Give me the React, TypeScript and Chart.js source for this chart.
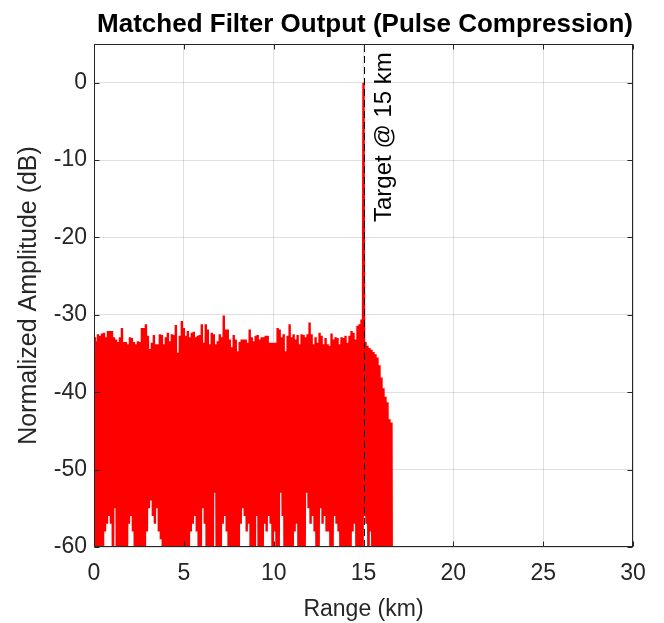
import { useEffect, useRef } from 'react';
import { Chart, registerables } from 'chart.js';

Chart.register(...registerables);

const TITLE = 'Matched Filter Output (Pulse Compression)';
const X_LABEL = 'Range (km)';
const Y_LABEL = 'Normalized Amplitude (dB)';
const TARGET_LABEL = 'Target @ 15 km';
const TARGET_RANGE_KM = 15;
const TARGET_PEAK_DB = 0;
const TARGET_LABEL_START_DB = -18;
const SAMPLE_SPACING_KM = 15 / 270;

const X_MIN = 0;
const X_MAX = 30;
const X_STEP = 5;
const Y_MIN = -60;
const Y_MAX = 5;
const Y_STEP = 10;

// upper excursions of the noise floor before the target (every other sample)
const noisePeaksDb = [
  -32.9, -33.4, -32.5, -32.7, -32.4, -32.3, -32.9, -32.1, -32.1, -32.1,
  -32.9, -33.2, -33.5, -32.9, -31.7, -33.5, -33.5, -33.8, -32.9, -33.0,
  -33.5, -33.8, -33.4, -33.5, -31.7, -31.7, -31.2, -32.7, -34.4, -33.6,
  -32.6, -33.8, -33.8, -32.5, -32.6, -33.8, -32.9, -32.3, -33.4, -32.5,
  -32.6, -31.3, -34.9, -32.7, -30.8, -31.7, -32.7, -32.1, -32.9,
  -32.3, -32.2, -32.9, -32.7, -32.6, -31.2, -33.6, -31.2, -31.9, -33.8,
  -32.3, -32.5, -33.8, -33.4, -32.5, -32.9, -30.1, -31.9, -31.9, -33.2,
  -34.2, -32.6, -33.2, -34.7, -33.5, -33.2, -33.2, -33.2, -33.6, -31.9,
  -32.9, -33.4, -32.7, -32.6, -33.2, -32.9, -32.9, -32.7, -32.7, -33.6,
  -33.6, -33.6, -33.6, -31.7, -31.9, -32.9, -32.5, -34.7, -32.7,
  -31.2, -32.9, -32.5, -33.2, -32.6, -33.8, -32.5, -32.6, -32.9, -32.5,
  -31.0, -32.5, -33.8, -32.9, -33.6, -32.3, -32.7, -33.8, -33.0, -33.8,
  -34.0, -32.4, -33.2, -32.9, -33.0, -33.8, -32.9, -33.0, -32.7, -33.6,
  -32.7, -32.1, -32.3, -33.2, -31.4, -31.2, -30.6,
];

// lower excursions of the noise floor before the target (every other sample)
const noiseTroughsDb = [
  -66, -63, -70, -64, -62, -58, -57, -56, -57, -64,
  -55, -67, -63, -69, -62, -66, -64, -57, -56, -58,
  -65, -62, -68, -63, -66, -61, -58, -55, -54, -56,
  -57, -55, -58, -59, -63, -67, -62, -65, -70, -63,
  -61, -66, -64, -62, -68, -63, -65, -62, -58, -57,
  -56, -58, -64, -62, -55, -57, -66, -63, -69, -62,
  -53, -64, -67, -62, -57, -56, -58, -65, -63, -70,
  -62, -66, -63, -57, -55, -56, -58, -57, -64, -62,
  -67, -56, -63, -68, -62, -57, -58, -56, -57, -64,
  -58, -66, -62, -53, -56, -65, -63, -69, -62, -64,
  -58, -57, -66, -62, -68, -63, -53, -55, -57, -56,
  -58, -64, -62, -55, -57, -56, -58, -58, -65, -62,
  -56, -57, -58, -66, -63, -69, -62, -65, -63, -58,
  -57, -64, -62, -67, -66,
];

// range sidelobe tail after the target
const tailTroughsDb = [-56, -57, -64, -58, -66, -63, -67, -62, -65, -63, -68, -62, -66, -64, -100];
const tailPeaksDb = [-33.5, -34.0, -34.3, -34.5, -34.8, -35.1, -35.5, -36.5, -38.1, -39.5, -40.6, -41.3, -43.5, -43.9];

const FONT = "'Liberation Sans', Arial, Helvetica, sans-serif";
const AXIS_COLOR = '#262626';

function buildSamples() {
  const pts: { x: number; y: number }[] = [];
  let i = 0;
  for (let k = 0; k < noisePeaksDb.length; k++) {
    pts.push({ x: i++ * SAMPLE_SPACING_KM, y: noisePeaksDb[k] });
    pts.push({ x: i++ * SAMPLE_SPACING_KM, y: noiseTroughsDb[k] });
  }
  pts.push({ x: i++ * SAMPLE_SPACING_KM, y: TARGET_PEAK_DB });
  for (let k = 0; k < tailTroughsDb.length; k++) {
    pts.push({ x: i++ * SAMPLE_SPACING_KM, y: tailTroughsDb[k] });
    if (k < tailPeaksDb.length) pts.push({ x: i++ * SAMPLE_SPACING_KM, y: tailPeaksDb[k] });
  }
  return pts;
}

const framePlugin = {
  id: 'matlabFrame',
  afterDatasetsDraw(chart: any) {
    const { ctx, chartArea: a, scales } = chart;
    const xs = scales.x;
    const ys = scales.y;
    const tx = Math.round(xs.getPixelForValue(TARGET_RANGE_KM)) + 0.5;

    // dashed target marker
    ctx.save();
    ctx.beginPath();
    ctx.rect(a.left, a.top, a.right - a.left, a.bottom - a.top);
    ctx.clip();
    ctx.strokeStyle = '#000000';
    ctx.lineWidth = 1;
    ctx.setLineDash([7, 4]);
    ctx.beginPath();
    ctx.moveTo(tx, a.bottom);
    ctx.lineTo(tx, a.top);
    ctx.stroke();
    ctx.restore();

    // target text
    ctx.save();
    ctx.translate(tx + 20, ys.getPixelForValue(TARGET_LABEL_START_DB));
    ctx.rotate(-Math.PI / 2);
    ctx.fillStyle = '#000000';
    ctx.font = `24px ${FONT}`;
    ctx.textAlign = 'left';
    ctx.textBaseline = 'middle';
    ctx.fillText(TARGET_LABEL, 0, 0);
    ctx.restore();

    // box + inward ticks
    ctx.save();
    ctx.strokeStyle = AXIS_COLOR;
    ctx.lineWidth = 1;
    const L = Math.round(a.left) + 0.5;
    const R = Math.round(a.right) - 0.5;
    const T = Math.round(a.top) + 0.5;
    const B = Math.round(a.bottom) - 0.5;
    ctx.strokeRect(L, T, R - L, B - T);
    const tl = 5;
    ctx.beginPath();
    for (const t of ys.ticks) {
      const py = Math.round(ys.getPixelForValue(t.value)) + 0.5;
      ctx.moveTo(L, py); ctx.lineTo(L + tl, py);
      ctx.moveTo(R, py); ctx.lineTo(R - tl, py);
    }
    for (const t of xs.ticks) {
      const px = Math.round(xs.getPixelForValue(t.value)) + 0.5;
      ctx.moveTo(px, B); ctx.lineTo(px, B - tl);
      ctx.moveTo(px, T); ctx.lineTo(px, T + tl);
    }
    ctx.stroke();
    ctx.restore();
  },
};

export default function App() {
  const ref = useRef<HTMLCanvasElement | null>(null);

  useEffect(() => {
    if (!ref.current) return;
    const chart = new Chart(ref.current, {
      type: 'line',
      data: {
        datasets: [
          {
            data: buildSamples(),
            borderColor: '#ff0000',
            backgroundColor: '#ff0000',
            borderWidth: 2.4,
            pointRadius: 0,
            tension: 0,
            fill: false,
            clip: 0,
          } as any,
        ],
      },
      options: {
        animation: false,
        responsive: false,
        devicePixelRatio: 1,
        layout: { padding: { left: 0, right: 31, top: 0, bottom: 0 } },
        plugins: {
          legend: { display: false },
          tooltip: { enabled: false },
          title: {
            display: true,
            text: TITLE,
            align: 'end',
            color: '#000000',
            font: { family: FONT, size: 26, weight: 'bold', lineHeight: 1.2 },
            padding: { top: 9, bottom: 3.8 },
          },
        },
        scales: {
          x: {
            type: 'linear',
            min: X_MIN,
            max: X_MAX,
            border: { display: false },
            grid: { color: 'rgba(38,38,38,0.15)', drawTicks: false },
            ticks: {
              stepSize: X_STEP,
              color: AXIS_COLOR,
              font: { family: FONT, size: 23 },
              padding: 13,
              maxRotation: 0,
            },
            title: {
              display: true,
              text: X_LABEL,
              color: AXIS_COLOR,
              font: { family: FONT, size: 23 },
              padding: { top: 0, bottom: 0 },
            },
            afterFit(scale: any) {
              scale.height = 76;
            },
          },
          y: {
            type: 'linear',
            min: Y_MIN,
            max: Y_MAX,
            border: { display: false },
            grid: { color: 'rgba(38,38,38,0.15)', drawTicks: false },
            ticks: {
              stepSize: Y_STEP,
              color: AXIS_COLOR,
              font: { family: FONT, size: 23 },
              padding: 7,
            },
            title: {
              display: true,
              text: Y_LABEL,
              color: AXIS_COLOR,
              font: { family: FONT, size: 25 },
              padding: { top: 14, bottom: 0 },
            },
            afterBuildTicks(scale: any) {
              scale.ticks = scale.ticks.filter((t: any) => t.value % Y_STEP === 0);
            },
            afterFit(scale: any) {
              scale.width = 94;
            },
          },
        },
      } as any,
      plugins: [framePlugin],
    });
    return () => chart.destroy();
  }, []);

  return (
    <div style={{ position: 'absolute', left: 0, top: 0, width: 664, height: 623, background: '#ffffff' }}>
      <canvas ref={ref} width={664} height={623} style={{ width: 664, height: 623, display: 'block' }} />
    </div>
  );
}
